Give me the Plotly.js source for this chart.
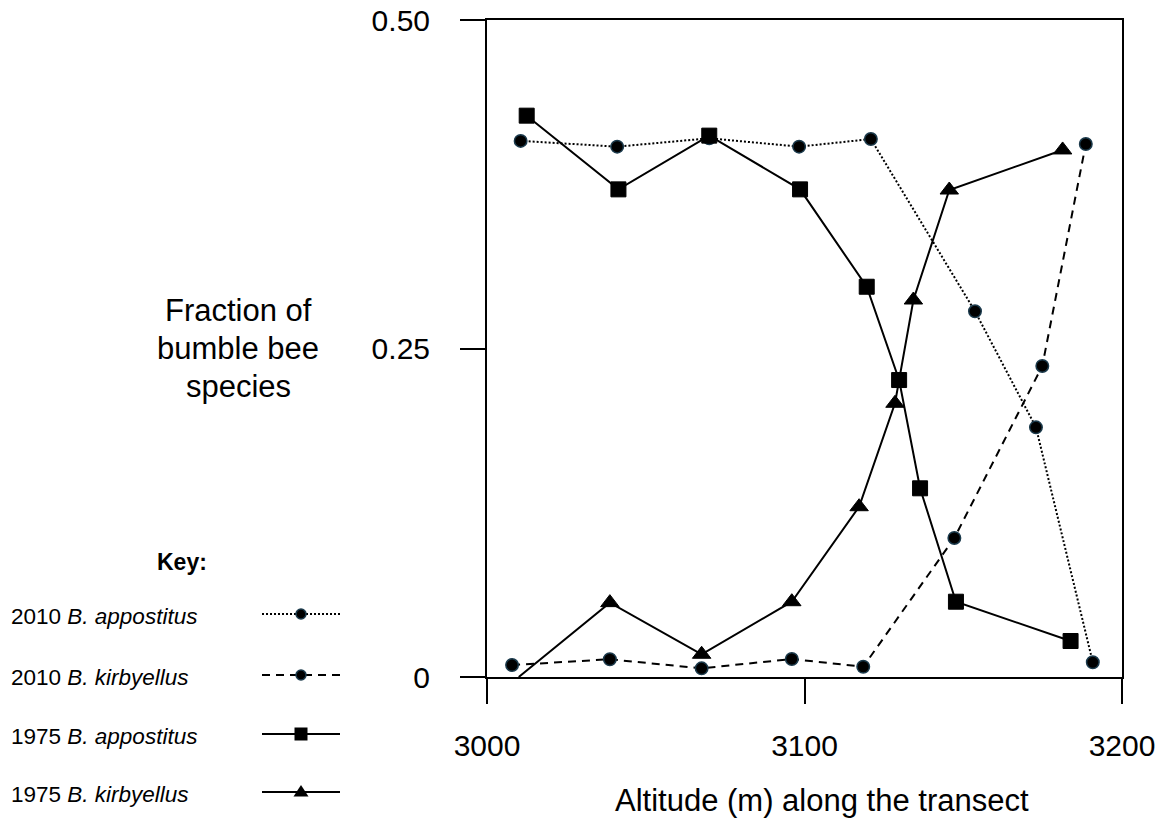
<!DOCTYPE html>
<html>
<head>
<meta charset="utf-8">
<script src="https://cdn.plot.ly/plotly-3.0.1.min.js"></script>
<style>html,body{margin:0;padding:0;background:#fff}#chart{width:1167px;height:821px}</style>
</head>
<body>
<div id="chart"></div>
<script>
// ---- data ----
const altApp2010 = [3010.6, 3041.0, 3070.0, 3098.3, 3120.9, 3153.7, 3172.9, 3190.8];
const fracApp2010 = [0.408, 0.4036, 0.410, 0.4036, 0.4094, 0.2783, 0.190, 0.0112];

const altKir2010 = [3007.9, 3038.7, 3067.6, 3096.0, 3118.5, 3147.2, 3174.9, 3188.6];
const fracKir2010 = [0.0091, 0.0135, 0.0066, 0.0137, 0.0078, 0.1058, 0.2367, 0.4056];

const altApp1975 = [3012.5, 3041.4, 3070.0, 3098.6, 3119.6, 3129.8, 3136.4, 3147.7, 3183.8];
const fracApp1975 = [0.4272, 0.3711, 0.4120, 0.3711, 0.2970, 0.2260, 0.1436, 0.0573, 0.0274];

const altKir1975 = [3010.0, 3038.7, 3067.6, 3096.0, 3117.2, 3128.5, 3134.3, 3145.6, 3181.3];
const fracKir1975 = [0.0, 0.0566, 0.0173, 0.0573, 0.1296, 0.2083, 0.2869, 0.3706, 0.4011];

const xTickVals = [3000, 3100, 3200];
const xTickText = ['3000', '3100', '3200'];
const yTickVals = [0, 0.25, 0.5];
const yTickText = ['0', '0.25', '0.50'];

const seriesYears = ['2010', '2010', '1975', '1975'];
const seriesSpecies = ['B. appostitus', 'B. kirbyellus', 'B. appostitus', 'B. kirbyellus'];

const xTitle = 'Altitude (m) along the transect';
const yTitleLines = ['Fraction of', 'bumble bee', 'species'];
const keyTitle = 'Key:';

// ---- layout geometry ----
const W = 1167, H = 821;
const M = {l: 487, r: 45, t: 20, b: 144};
const PW = W - M.l - M.r, PH = H - M.t - M.b;
const px = p => (p - M.l) / PW;           // pixel x -> paper x
const py = p => (H - M.b - p) / PH;       // pixel y -> paper y
const FONT = 'Liberation Sans, Arial, Helvetica, sans-serif';

// styles
const styles = [
  {dash: '2px,2px', width: 2, symbol: 'circle', msize: 12.5, lmsize: 10},
  {dash: '8px,6px', width: 2, symbol: 'circle', msize: 12.5, lmsize: 10},
  {dash: 'solid', width: 2, symbol: 'square', msize: 15, lmsize: 13},
  {dash: 'solid', width: 2, symbol: 'triangle-up', msize: 16, lmsize: 15}
];
const circleFill = '#000000', circleEdge = '#1b3a4c';

function mk(i, xs, ys, sizes) {
  const s = styles[i];
  const circ = s.symbol === 'circle';
  return {
    x: xs, y: ys, type: 'scatter', mode: 'lines+markers',
    name: seriesYears[i] + ' ' + seriesSpecies[i],
    line: {color: '#000', width: s.width, dash: s.dash},
    marker: {symbol: s.symbol, size: sizes || s.msize, color: circ ? circleFill : '#000', opacity: 1,
             line: {color: circ ? circleEdge : '#000', width: circ ? 1.5 : 1}},
    showlegend: false, hoverinfo: 'x+y'
  };
}

const traces = [
  mk(0, altApp2010, fracApp2010),
  mk(1, altKir2010, fracKir2010),
  mk(2, altApp1975, fracApp1975),
  mk(3, altKir1975, fracKir1975, altKir1975.map((v, i) => i === 0 ? 0 : styles[3].msize))
];

// ---- annotations ----
const annotations = [];
annotations.push({xref: 'paper', yref: 'paper', x: px(822), y: py(800), text: xTitle,
  showarrow: false, xanchor: 'center', yanchor: 'middle', font: {family: FONT, size: 31, color: '#000'}});
const yTitleY = [310, 348, 386];
yTitleLines.forEach((t, i) => annotations.push({xref: 'paper', yref: 'paper', x: px(238), y: py(yTitleY[i]),
  text: t, showarrow: false, xanchor: 'center', yanchor: 'middle', font: {family: FONT, size: 31, color: '#000'}}));
annotations.push({xref: 'paper', yref: 'paper', x: px(182), y: py(562), text: '<b>' + keyTitle + '</b>',
  showarrow: false, xanchor: 'center', yanchor: 'middle', font: {family: FONT, size: 23, color: '#000'}});

const rowY = [616, 677, 736, 794];
const shapes = [];
seriesYears.forEach((yr, i) => {
  annotations.push({xref: 'paper', yref: 'paper', x: px(9), y: py(rowY[i]),
    text: yr + ' <i>' + seriesSpecies[i] + '</i>', showarrow: false, xanchor: 'left', yanchor: 'middle',
    font: {family: FONT, size: 22.5, color: '#000'}});
  const s = styles[i];
  const ly = rowY[i] - 2;
  shapes.push({type: 'line', xref: 'paper', yref: 'paper', x0: px(262), x1: px(340), y0: py(ly), y1: py(ly),
    line: {color: '#000', width: s.width, dash: s.dash}});
  const cx = px(301), cy = py(ly), h = s.lmsize / 2;
  if (s.symbol === 'circle') {
    shapes.push({type: 'circle', xref: 'paper', yref: 'paper', xsizemode: 'pixel', ysizemode: 'pixel',
      xanchor: cx, yanchor: cy, x0: -h, x1: h, y0: -h, y1: h, fillcolor: circleFill, line: {color: circleEdge, width: 1.5}});
  } else if (s.symbol === 'square') {
    shapes.push({type: 'rect', xref: 'paper', yref: 'paper', xsizemode: 'pixel', ysizemode: 'pixel',
      xanchor: cx, yanchor: cy, x0: -h, x1: h, y0: -h, y1: h, fillcolor: '#000', line: {width: 0}});
  } else {
    shapes.push({type: 'path', xref: 'paper', yref: 'paper', xsizemode: 'pixel', ysizemode: 'pixel',
      xanchor: cx, yanchor: cy, path: `M ${-h} ${-h * 0.6} L ${h} ${-h * 0.6} L 0 ${h * 0.95} Z`,
      fillcolor: '#000', line: {width: 0}});
  }
});

const axisCommon = {
  showline: true, linewidth: 2, linecolor: '#000', mirror: true,
  ticks: 'outside', ticklen: 25, tickwidth: 2, tickcolor: '#000',
  showgrid: false, zeroline: false, fixedrange: true,
  tickfont: {family: FONT, size: 30, color: '#000'}
};

const layout = {
  width: W, height: H,
  margin: M,
  paper_bgcolor: '#fff', plot_bgcolor: '#fff',
  showlegend: false,
  xaxis: Object.assign({}, axisCommon, {range: [3000, 3200], tickmode: 'array', tickvals: xTickVals, ticktext: xTickText, ticklabelstandoff: 16}),
  yaxis: Object.assign({}, axisCommon, {range: [0, 0.5], tickmode: 'array', tickvals: yTickVals, ticktext: yTickText, ticklabelstandoff: 24}),
  annotations: annotations,
  shapes: shapes
};

Plotly.newPlot('chart', traces, layout, {staticPlot: true, displayModeBar: false});
</script>
</body>
</html>
